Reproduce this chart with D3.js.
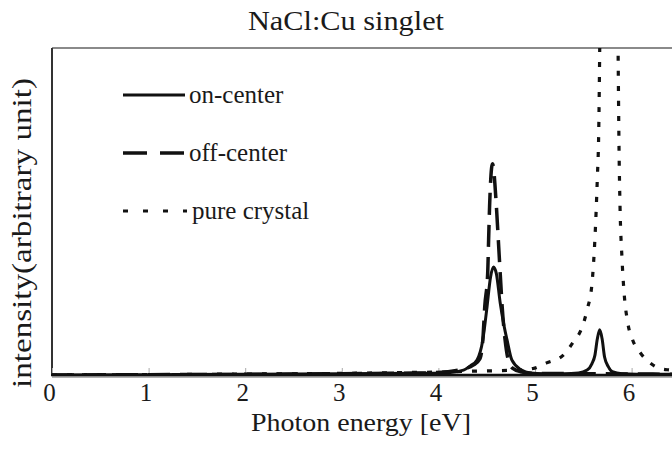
<!DOCTYPE html>
<html><head><meta charset="utf-8">
<script src="https://cdn.jsdelivr.net/npm/d3@7"></script>
<style>
html,body{margin:0;padding:0;background:#fff;}
svg{display:block;}
text{font-family:"Times New Roman","Liberation Serif",Tinos,Times,serif;fill:#1a1a1a;}
</style></head>
<body>
<svg id="chart" width="672" height="464"></svg>
<script>
// ---- data ----
const title = "NaCl:Cu singlet";
const xLabel = "Photon energy [eV]";
const yLabel = "intensity(arbitrary unit)";
const xTicks = [0, 1, 2, 3, 4, 5, 6];
const seriesNames = ["on-center", "off-center", "pure crystal"];

const onCenterE = [0, 1, 2, 3, 3.8, 4.1, 4.26, 4.33, 4.40, 4.46, 4.50, 4.54, 4.57, 4.60, 4.64, 4.68, 4.71, 4.76, 4.86, 4.95, 5.1, 5.3, 5.45, 5.54, 5.59, 5.62, 5.645, 5.67, 5.695, 5.72, 5.76, 5.80, 5.9, 6.2, 6.6, 7];
const onCenterI = [0, 0.001, 0.002, 0.004, 0.005, 0.007, 0.015, 0.028, 0.046, 0.108, 0.2, 0.30, 0.33, 0.31, 0.22, 0.15, 0.108, 0.046, 0.015, 0.006, 0.004, 0.004, 0.006, 0.015, 0.035, 0.06, 0.11, 0.138, 0.11, 0.055, 0.025, 0.01, 0.004, 0.002, 0.002, 0.001];

const offCenterE = [0, 1, 2, 3, 3.8, 4.1, 4.25, 4.36, 4.43, 4.46, 4.48, 4.51, 4.52, 4.53, 4.56, 4.60, 4.62, 4.64, 4.66, 4.69, 4.72, 4.77, 4.85, 5.0, 5.5, 6, 7];
const offCenterI = [0, 0.001, 0.002, 0.004, 0.006, 0.01, 0.018, 0.03, 0.05, 0.108, 0.21, 0.31, 0.415, 0.517, 0.646, 0.517, 0.415, 0.31, 0.21, 0.108, 0.05, 0.02, 0.01, 0.005, 0.004, 0.003, 0.002];

const pureE = [0, 1, 2, 3, 3.5, 4, 4.4, 4.81, 4.98, 5.12, 5.29, 5.39, 5.49, 5.54, 5.59, 5.62, 5.645, 5.66, 5.67, 5.70, 5.77, 5.83, 5.86, 5.87, 5.88, 5.90, 5.92, 5.96, 6.01, 6.09, 6.19, 6.29, 6.40, 6.6, 7];
const pureI = [0, 0.001, 0.003, 0.005, 0.007, 0.009, 0.012, 0.015, 0.02, 0.037, 0.06, 0.098, 0.148, 0.2, 0.28, 0.415, 0.6, 0.75, 1.0, 2.2, 3.0, 2.2, 1.0, 0.69, 0.517, 0.36, 0.26, 0.16, 0.108, 0.068, 0.037, 0.02, 0.015, 0.01, 0.006];

// ---- layout ----
const svg = d3.select("#chart");
const padL = 52, padT = 48, baseY = 375;
const x = d3.scaleLinear().domain([0, 7]).range([padL, padL + 7 * 96.6]);
const y = d3.scaleLinear().domain([0, 1]).range([baseY, padT]);
const FONT = '"Times New Roman","Liberation Serif",Tinos,Times,serif';

svg.append("defs").append("clipPath").attr("id", "clip")
  .append("rect").attr("x", padL).attr("y", padT).attr("width", 700).attr("height", baseY - padT);

// frame
svg.append("line").attr("x1", padL).attr("x2", 700).attr("y1", padT).attr("y2", padT)
  .attr("stroke", "#8a8a8a").attr("stroke-width", 2.2);
svg.append("line").attr("x1", padL).attr("x2", padL).attr("y1", padT).attr("y2", baseY)
  .attr("stroke", "#333").attr("stroke-width", 2);

// x axis with inward ticks
const xAxis = d3.axisBottom(x).tickValues(xTicks).tickSizeInner(-7).tickSizeOuter(0).tickFormat(d3.format("d"));
const gx = svg.append("g").attr("transform", `translate(0,${baseY})`).call(xAxis);
gx.select(".domain").remove();
gx.selectAll(".tick line").attr("stroke", "#aaa").attr("stroke-width", 1);
gx.selectAll(".tick text").attr("y", 26).attr("dy", 0).attr("dx", -3)
  .style("font-family", FONT)
  .attr("font-size", 25).attr("fill", "#1a1a1a");

// series
const line = d3.line().x(d => x(d[0])).y(d => y(d[1])).curve(d3.curveMonotoneX);
const plot = svg.append("g").attr("clip-path", "url(#clip)");
const styles = [
  {dash: null, w: 3},
  {dash: "22,10", w: 3.5},
  {dash: "5,10", w: 3.2}
];
const data = [
  d3.zip(onCenterE, onCenterI),
  d3.zip(offCenterE, offCenterI),
  d3.zip(pureE, pureI)
];
data.forEach((d, i) => {
  plot.append("path").datum(d).attr("d", line).attr("fill", "none")
    .attr("stroke", "#111").attr("stroke-width", styles[i].w)
    .attr("stroke-dasharray", styles[i].dash).attr("stroke-linejoin", "round");
});

// bottom axis line (thick black + grey)
svg.append("line").attr("x1", padL).attr("x2", 700).attr("y1", baseY + 2).attr("y2", baseY + 2)
  .attr("stroke", "#999").attr("stroke-width", 1.5);
svg.append("line").attr("x1", padL - 1).attr("x2", 700).attr("y1", baseY).attr("y2", baseY)
  .attr("stroke", "#111").attr("stroke-width", 2.5);

// legend
const legY = [95, 153, 211];
seriesNames.forEach((name, i) => {
  svg.append("line").attr("x1", 123).attr("x2", i === 2 ? 187 : 185)
    .attr("y1", legY[i]).attr("y2", legY[i])
    .attr("stroke", "#111").attr("stroke-width", styles[i].w)
    .attr("stroke-dasharray", i === 1 ? "24,13" : (i === 2 ? "5,15" : null));
  svg.append("text").attr("x", i === 2 ? 192 : 189).attr("y", legY[i] + 8)
    .attr("font-size", 25).text(name);
});

// titles
svg.append("text").attr("x", 346).attr("y", 30).attr("text-anchor", "middle")
  .attr("font-size", 27).attr("textLength", 196).attr("lengthAdjust", "spacingAndGlyphs").text(title);
svg.append("text").attr("x", 361).attr("y", 431).attr("text-anchor", "middle")
  .attr("font-size", 26).attr("textLength", 220).attr("lengthAdjust", "spacingAndGlyphs").text(xLabel);
svg.append("text").attr("transform", "translate(31,233) rotate(-90)").attr("text-anchor", "middle")
  .attr("font-size", 28).attr("textLength", 310).attr("lengthAdjust", "spacingAndGlyphs").text(yLabel);
</script>
</body></html>
